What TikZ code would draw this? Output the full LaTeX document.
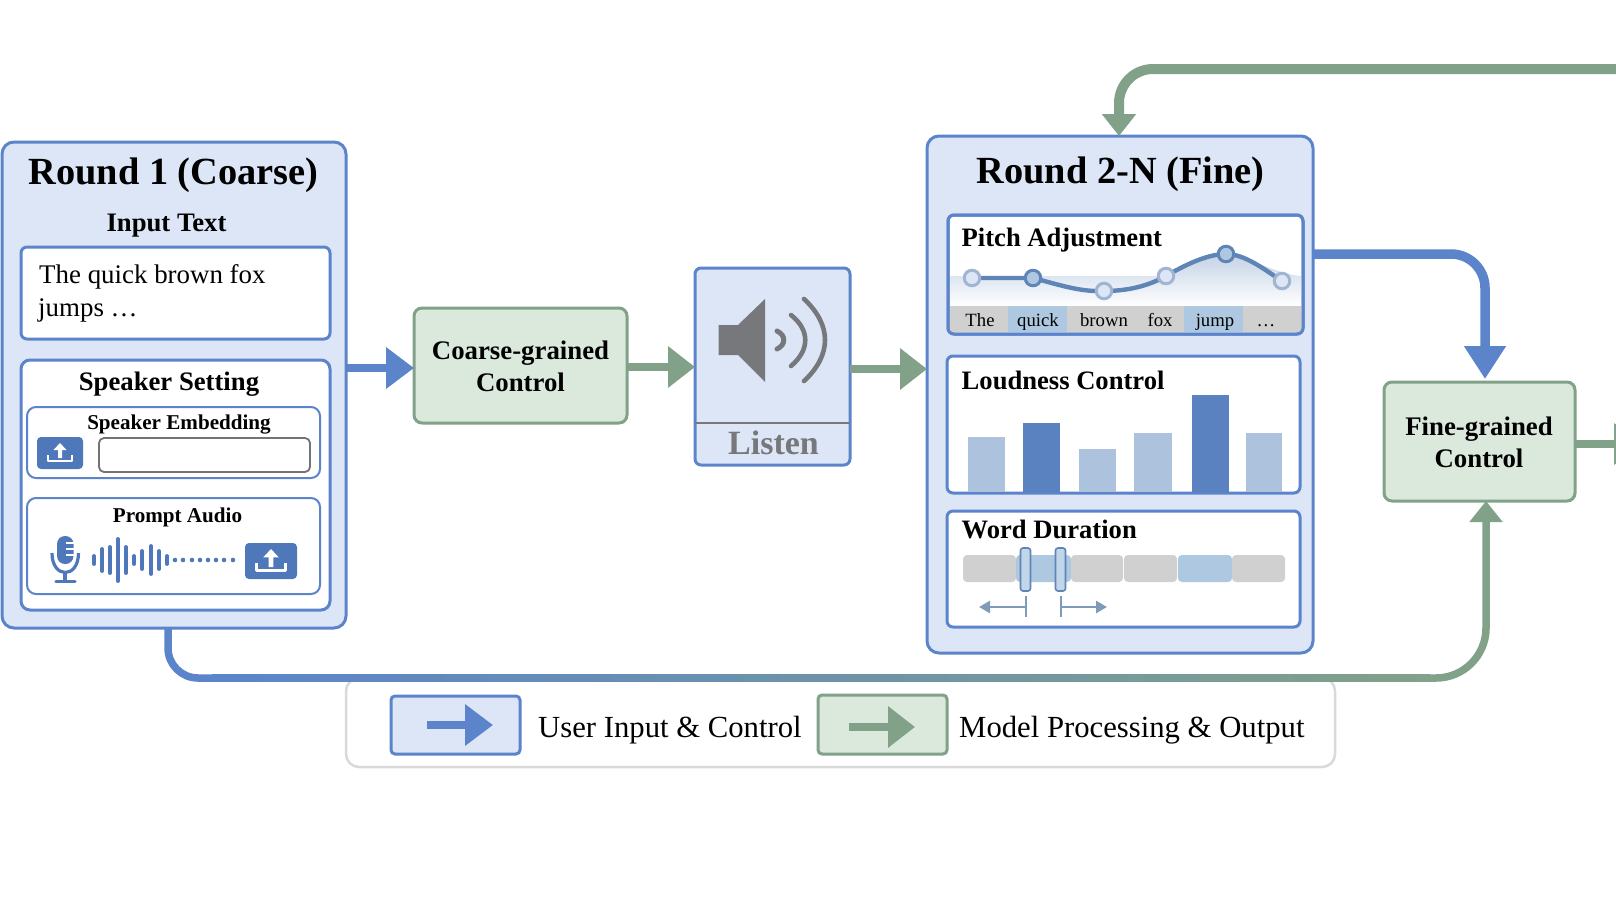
\documentclass[tikz,border=0pt]{standalone}
\usepackage{fontspec}
\setmainfont{Liberation Serif}
\usetikzlibrary{arrows.meta}
\definecolor{bluec}{HTML}{5B84CA}
\definecolor{bluefill}{HTML}{DDE6F6}
\definecolor{greenc}{HTML}{81A188}
\definecolor{greenfill}{HTML}{DBE9DC}
\definecolor{btnc}{HTML}{4F78BA}
\definecolor{iconc}{HTML}{76787C}
\definecolor{barlight}{HTML}{ADC2DC}
\definecolor{bardark}{HTML}{5B82C0}
\definecolor{cellgray}{HTML}{D0D0D0}
\definecolor{cellblue}{HTML}{ADC8E0}
\definecolor{linec}{HTML}{5F84B6}
\definecolor{dotc}{HTML}{A0B5D2}
\definecolor{rulerc}{HTML}{7F9ABB}
\tikzset{
  outerbox/.style={draw=bluec,fill=bluefill,line width=3pt,rounded corners=12pt,outer sep=0pt,inner sep=0pt},
  innerbox/.style={draw=bluec,fill=white,line width=3pt,rounded corners=6pt,outer sep=0pt,inner sep=0pt},
  subbox/.style={draw=bluec,fill=white,line width=2pt,rounded corners=9pt,outer sep=0pt,inner sep=0pt},
  stepbox/.style={draw=greenc,fill=greenfill,line width=3pt,rounded corners=8pt,outer sep=0pt,inner sep=0pt},
  steptext/.style={anchor=base,inner sep=0pt,font=\bfseries\fontsize{26.8}{32}\selectfont},
  bigtitle/.style={anchor=base,inner sep=0pt,font=\bfseries\fontsize{38.4}{44}\selectfont},
  midtitle/.style={anchor=base,inner sep=0pt,font=\bfseries\fontsize{26.7}{32}\selectfont},
  lefttitle/.style={anchor=base west,inner sep=0pt,font=\bfseries\fontsize{26.6}{32}\selectfont},
  smalltitle/.style={anchor=base,inner sep=0pt,font=\bfseries\fontsize{21.1}{25}\selectfont},
  plaintext/.style={anchor=base west,inner sep=0pt,font=\fontsize{26.9}{32}\selectfont},
  wordtext/.style={anchor=base,inner sep=0pt,font=\fontsize{18.7}{22}\selectfont},
  legendtext/.style={anchor=base west,inner sep=0pt,font=\fontsize{30.7}{36}\selectfont},
  bluearrow/.style={draw=bluec,line width=8pt,-{Triangle[length=28pt,width=40pt]}},
  greenarrow/.style={draw=greenc,line width=8pt,-{Triangle[length=27pt,width=40pt]}},
  uploadbtn/.style={fill=btnc,rounded corners=4pt,draw=none,outer sep=0pt,inner sep=0pt},
  pitchdot/.style={circle,draw=#1,line width=3pt,minimum size=15.5pt,inner sep=0pt},
  cell/.style={rounded corners=4pt},
  handle/.style={draw=linec,fill=cellblue!75!white,line width=1.6pt,rounded corners=2.5pt,minimum width=10pt,minimum height=43pt,inner sep=0pt},
  ruler/.style={draw=rulerc,line width=2.8pt},
  rulerarrow/.style={ruler,-{Triangle[length=11pt,width=12pt]}},
  pics/uparrow/.style={code={
    \fill[white] (0,-10)--(6.5,-3)--(2,-3)--(2,5)--(-2,5)--(-2,-3)--(-6.5,-3)--cycle;
    \draw[white,line width=2.4pt,line join=round] (-12,2)--(-12,8)--(12,8)--(12,2);
  }}
}
\begin{document}
\begin{tikzpicture}[x=1pt,y=-1pt]
\useasboundingbox (0,0) rectangle (1616,910);
\clip (0,0) rectangle (1616,910);

% legend sits under the long connector
\node[draw=black!15,fill=white,line width=2.5pt,rounded corners=13pt,minimum width=989pt,minimum height=89pt,inner sep=0pt] (legend) at (840.5,722.5) {};
\node[outerbox,rounded corners=4pt,minimum width=129pt,minimum height=58pt] (keyblue) at (455.5,725) {};
\node[outerbox,draw=greenc,fill=greenfill,rounded corners=4pt,minimum width=129pt,minimum height=59pt] (keygreen) at (882.5,724.5) {};
\coordinate (keybluea) at (427,725);
\coordinate (keyblueb) at (493,725);
\coordinate (keygreena) at (849,727);
\coordinate (keygreenb) at (915,727);
\draw[bluearrow] (keybluea)--(keyblueb);
\draw[greenarrow] (keygreena)--(keygreenb);
\node[legendtext] (keyusertxt) at (538,737) {User Input \& Control};
\node[legendtext] (keymodeltxt) at (959,737) {Model Processing \& Output};

% round 1
\node[outerbox,minimum width=344pt,minimum height=486pt] (round1) at (174,385) {};
\node[bigtitle] (round1txt) at (173.5,184) {Round 1 (Coarse)};
\node[midtitle] (inputtxt) at (166.5,231) {Input Text};
\node[innerbox,minimum width=309pt,minimum height=92pt] (input) at (175.5,293) {};
\node[plaintext] (line1) at (39,283) {The quick brown fox};
\node[plaintext] (line2) at (38,316) {jumps \dots};
\node[innerbox,rounded corners=9pt,minimum width=309pt,minimum height=250pt] (speaker) at (175.5,485) {};
\node[midtitle] (speakertxt) at (169,390) {Speaker Setting};
\node[subbox,minimum width=293pt,minimum height=71pt] (embed) at (173.5,442.5) {};
\node[smalltitle] (embedtxt) at (179,429) {Speaker Embedding};
\node[uploadbtn,minimum width=46pt,minimum height=32pt] (btn1) at (60,453) {};
\pic at (btn1) {uparrow};
\node[draw=black!55,fill=white,line width=1.8pt,rounded corners=5pt,minimum width=211pt,minimum height=34pt,inner sep=0pt] (field) at (204.5,455) {};
\node[subbox,minimum width=293pt,minimum height=96pt] (prompt) at (173.5,546) {};
\node[smalltitle] (prompttxt) at (177.5,522) {Prompt Audio};
\node[uploadbtn,minimum width=52pt,minimum height=36pt] (btn2) at (271,561) {};
\pic[scale=1.2] at (btn2) {uparrow};

% microphone
\fill[btnc,rounded corners=8pt] (57,536) rectangle (73.5,564);
\foreach \y in {543,549,555} \draw[white,line width=1.2pt] (66,\y)--(74,\y);
\draw[btnc,line width=3.2pt] (52,553) .. controls (52,579) and (78.5,579) .. (78.5,553);
\draw[btnc,line width=3.2pt] (65,572)--(65,581);
\draw[btnc,line width=3.2pt,line cap=round] (56,581.5)--(75,581.5);

% waveform
\foreach \x/\h in {94/8,102/22,110/26,118/42,126/26,134/8,142/18,151/28,159/18,167/8}
  \draw[btnc,line width=3.8pt,line cap=round] (\x,560-\h/2)--(\x,560+\h/2);
\foreach \x in {175,183,192,200,208,216,224,233}
  \fill[btnc] (\x,560) circle (2.3pt);

% first row
\node[stepbox,minimum width=213pt,minimum height=115pt] (coarse) at (520.5,365.5) {};
\node[steptext] (coarsetxt) at (520.5,359) {Coarse-grained};
\node[steptext] (coarsetxtb) at (520.5,391.5) {Control};
\node[outerbox,rounded corners=6pt,minimum width=155pt,minimum height=197pt] (listen) at (772.5,366.5) {};
\draw[iconc,line width=2.6pt] (listen.west |- 0,423)--(listen.east |- 0,423);
\node[bigtitle,text=iconc,font=\bfseries\fontsize{34}{40}\selectfont] (listentxt) at (773.5,454) {Listen};
\fill[iconc] (718.5,325)--(738,325)--(765,299)--(765,382)--(738,355)--(718.5,355)--cycle;
\draw[iconc,line width=5pt,line cap=round] (777,331) .. controls (786,335) and (786,345) .. (777,349);
\draw[iconc,line width=4.6pt,line cap=round] (791,315) .. controls (810,330) and (810,350) .. (791,366);
\draw[iconc,line width=4.6pt,line cap=round] (804,299) .. controls (832,325) and (832,355) .. (804,381);

% round 2
\node[outerbox,minimum width=386pt,minimum height=517pt] (round2) at (1120,394.5) {};
\node[bigtitle] (round2txt) at (1120.5,183) {Round 2-N (Fine)};

% pitch
\node[innerbox,minimum width=355pt,minimum height=119pt] (pitch) at (1125.5,274.5) {};
\shade[top color=barlight!70!white,bottom color=white] (950,276) -- (1160,276) .. controls (1190,262) and (1210,256) .. (1226,256) .. controls (1250,256) and (1275,274) .. (1301,276) -- (1301,306) -- (950,306) -- cycle;
\node[lefttitle] (pitchtxt) at (961.5,246) {Pitch Adjustment};
\foreach \a/\b/\c in {950/1008/cellgray,1008/1067/cellblue,1067/1184/cellgray,1184/1243/cellblue,1243/1302/cellgray}
  \fill[\c] (\a,306) rectangle (\b,332);
\node[innerbox,fill=none,minimum width=355pt,minimum height=119pt] (pitchline) at (1125.5,274.5) {};
\node[wordtext] (w1) at (980,326) {The};
\node[wordtext] (w2) at (1038,326) {quick};
\node[wordtext] (w3) at (1104,326) {brown};
\node[wordtext] (w4) at (1160,326) {fox};
\node[wordtext] (w5) at (1215,326) {jump};
\node[wordtext] (w6) at (1266,326) {\dots};
\coordinate (p1) at (972,278);
\coordinate (p2) at (1033,278);
\coordinate (p3) at (1104,291);
\coordinate (p4) at (1166,276);
\coordinate (p5) at (1226,254);
\coordinate (p6) at (1282,281);
\draw[linec,line width=4.4pt] (p1)--(p2) .. controls (1060,285) and (1080,292) .. (p3) .. controls (1130,291) and (1150,285) .. (p4) .. controls (1190,262) and (1210,254) .. (p5) .. controls (1245,254) and (1265,270) .. (p6);
\node[pitchdot=dotc,fill=bluefill] (d1) at (p1) {};
\node[pitchdot=linec,fill=cellblue] (d2) at (p2) {};
\node[pitchdot=dotc,fill=bluefill] (d3) at (p3) {};
\node[pitchdot=dotc,fill=bluefill] (d4) at (p4) {};
\node[pitchdot=linec,fill=cellblue] (d5) at (p5) {};
\node[pitchdot=dotc,fill=bluefill] (d6) at (p6) {};

% loudness
\node[innerbox,minimum width=353pt,minimum height=137pt] (loud) at (1123.5,424.5) {};
\node[lefttitle] (loudtxt) at (961.5,389) {Loudness Control};
\foreach \a/\b/\t/\c in {968/1005/437/barlight,1023/1060/423/bardark,1079/1116/449/barlight,1134/1172/433/barlight,1192/1229/395/bardark,1246/1282/433/barlight}
  \fill[\c] (\a,\t) rectangle (\b,492);

% duration
\node[innerbox,minimum width=353pt,minimum height=116pt] (duration) at (1123.5,569) {};
\node[lefttitle] (durationtxt) at (961.5,538) {Word Duration};
\foreach \a/\b/\c in {963/1016/cellgray,1016/1071/cellblue,1071/1123/cellgray,1124/1177/cellgray,1178/1232/cellblue,1232/1285/cellgray}
  \fill[\c,cell] (\a,555) rectangle (\b,582);
\node[handle] (h1) at (1025.5,569.5) {};
\node[handle] (h2) at (1060.5,569.5) {};
\coordinate (r1a) at (1026,607);
\coordinate (r1b) at (979,607);
\coordinate (r2a) at (1061,607);
\coordinate (r2b) at (1107,607);
\draw[ruler] (1026,596)--(1026,617);
\draw[ruler] (1061,596)--(1061,617);
\draw[rulerarrow] (r1a)--(r1b);
\draw[rulerarrow] (r2a)--(r2b);

% fine box
\node[stepbox,minimum width=191pt,minimum height=119pt] (fine) at (1479.5,441.5) {};
\node[steptext] (finetxt) at (1479,435) {Fine-grained};
\node[steptext] (finetxtb) at (1479,467) {Control};

% connectors
\coordinate (outend) at (1641,444);
\coordinate (topright) at (1616,69);
\coordinate (busl) at (212,678);
\coordinate (busr) at (1430,678);
\coordinate (row1) at (0,368);
\coordinate (row2) at (0,367);
\coordinate (row3) at (0,369);
\draw[bluearrow] (round1.east |- row1)--(coarse.west |- row1);
\draw[greenarrow] (coarse.east |- row2)--(listen.west |- row2);
\draw[greenarrow] (listen.east |- row3)--(round2.west |- row3);
\draw[greenarrow,line width=10pt,rounded corners=34pt,-{Triangle[length=22pt,width=33pt]}] (topright)-|([xshift=-1pt]round2.north);
\draw[bluearrow,line width=9.5pt,rounded corners=34pt,-{Triangle[length=33pt,width=40pt]}] (round2.east |- 0,254)-|([xshift=5.5pt,yshift=3pt]fine.north);
\draw[greenarrow] (fine.east |- outend)--(outend);
\draw[draw=bluec,line width=7.5pt,rounded corners=30pt] (168,628)|-(busl);
\shade[left color=bluec,right color=greenc] ([yshift=3.75pt]busl) rectangle ([yshift=-3.75pt]busr);
\draw[greenarrow,line width=7.5pt,rounded corners=50pt,-{Triangle[length=21pt,width=32pt]}] (busr)-|([xshift=6.5pt]fine.south);
\end{tikzpicture}
\end{document}
